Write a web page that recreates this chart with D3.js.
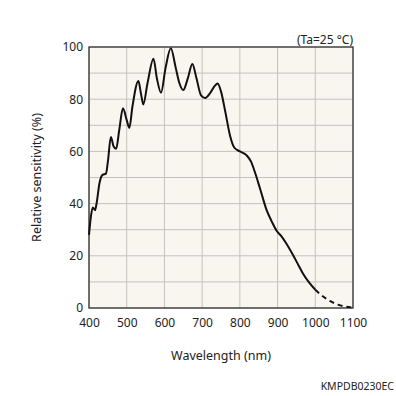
<!DOCTYPE html>
<html>
<head>
<meta charset="utf-8">
<script src="https://cdn.jsdelivr.net/npm/d3@7"></script>
<style>
  body { margin: 0; background: #fff; }
  text { font-family: "Noto Sans", "Open Sans", sans-serif; fill: #222; }
</style>
</head>
<body>
<div class="layout"></div>
<script>
// solid part of the curve (wavelength nm, relative sensitivity %)
var wavelength = [400, 405, 410, 416, 420, 428, 436, 445, 450, 458, 465, 472, 480, 490, 500, 507,
    515, 531, 538, 544, 555, 571, 580, 591, 603, 617, 630, 640, 650, 662, 674, 685, 697, 708,
    722, 733, 741, 750, 761, 774, 785, 800, 818, 830, 840, 853, 871, 885, 898, 910, 924, 942,
    955, 968, 985, 1000];
var sensitivity = [28, 35, 38.5, 37.5, 40, 48, 51, 51.5, 56, 65.5, 62, 61, 68, 76.5, 72, 69,
    77, 87, 82, 78, 86, 95.5, 88, 82.5, 92, 99.5, 92, 86, 83.5, 88, 93.5, 88, 81.5, 80.5,
    82.5, 85, 86, 83, 75.5, 66, 61.5, 60, 58.5, 56, 52, 46, 37.5, 33, 29.5, 27.5, 24.5, 20,
    16.5, 13, 9.5, 7];
// dashed tail
var tailWavelength = [1000, 1020, 1040, 1060, 1080, 1100];
var tailSensitivity = [7, 4.5, 2.6, 1.3, 0.5, 0.2];

var xTicks = [400, 500, 600, 700, 800, 900, 1000, 1100];
var yTicks = [0, 20, 40, 60, 80, 100];

var margin = {top: 47, right: 43, bottom: 88, left: 89},
    width = 396 - margin.left - margin.right,
    height = 396 - margin.top - margin.bottom;

var x = d3.scaleLinear().domain([400, 1100]).range([0, width]);
var y = d3.scaleLinear().domain([0, 100]).range([height, 0]);

var svg = d3.select(".layout").append("svg")
        .attr("width", 396)
        .attr("height", 396)
    .append("g")
        .attr("transform", "translate(" + margin.left + "," + margin.top + ")");

svg.append("rect")
    .attr("width", width)
    .attr("height", height)
    .attr("fill", "#f8f6ef");

// grid
svg.append("g")
    .selectAll("line")
    .data(xTicks)
    .enter().append("line")
        .attr("x1", function(d) { return x(d); })
        .attr("x2", function(d) { return x(d); })
        .attr("y1", 0)
        .attr("y2", height)
        .attr("stroke", "#c4c2bd")
        .attr("stroke-width", 1);

svg.append("g")
    .selectAll("line")
    .data(d3.range(0, 101, 10))
    .enter().append("line")
        .attr("x1", 0)
        .attr("x2", width)
        .attr("y1", function(d) { return y(d); })
        .attr("y2", function(d) { return y(d); })
        .attr("stroke", "#c4c2bd")
        .attr("stroke-width", 1);

svg.append("rect")
    .attr("width", width)
    .attr("height", height)
    .attr("fill", "none")
    .attr("stroke", "#333")
    .attr("stroke-width", 1.3);

// axes
var xAxis = d3.axisBottom(x).tickValues(xTicks).tickFormat(d3.format("d")).tickSize(0).tickPadding(12);
var yAxis = d3.axisLeft(y).tickValues(yTicks).tickSize(0).tickPadding(6);

svg.append("g")
    .attr("transform", "translate(0," + height + ")")
    .call(xAxis)
    .call(function(g) { g.select(".domain").remove(); })
    .selectAll("text")
        .attr("dy", "0.6em")
        .style("font-size", "12px")
        .style("font-family", "'Noto Sans', sans-serif")
        .attr("fill", "#222");

svg.append("g")
    .call(yAxis)
    .call(function(g) { g.select(".domain").remove(); })
    .selectAll("text")
        .style("font-size", "12px")
        .style("font-family", "'Noto Sans', sans-serif")
        .attr("fill", "#222");

// curve
var line = d3.line()
    .x(function(d) { return x(d[0]); })
    .y(function(d) { return y(d[1]); })
    .curve(d3.curveMonotoneX);

svg.append("path")
    .datum(d3.zip(wavelength, sensitivity))
    .attr("d", line)
    .attr("fill", "none")
    .attr("stroke", "#111")
    .attr("stroke-width", 2);

svg.append("path")
    .datum(d3.zip(tailWavelength, tailSensitivity))
    .attr("d", line)
    .attr("fill", "none")
    .attr("stroke", "#111")
    .attr("stroke-width", 2)
    .attr("stroke-dasharray", "5,4");

// labels
svg.append("text")
    .attr("x", width / 2)
    .attr("y", height + 52)
    .attr("text-anchor", "middle")
    .style("font-size", "12.5px")
    .text("Wavelength (nm)");

svg.append("text")
    .attr("transform", "rotate(-90)")
    .attr("x", -height / 2)
    .attr("y", -48)
    .attr("text-anchor", "middle")
    .style("font-size", "12.5px")
    .text("Relative sensitivity (%)");

svg.append("text")
    .attr("x", width)
    .attr("y", -3)
    .attr("text-anchor", "end")
    .style("font-size", "12px")
    .text("(Ta=25 °C)");

svg.append("text")
    .attr("x", 396 - margin.left - 2)
    .attr("y", 396 - margin.top - 6)
    .attr("text-anchor", "end")
    .style("font-size", "10.5px")
    .text("KMPDB0230EC");
</script>
</body>
</html>
